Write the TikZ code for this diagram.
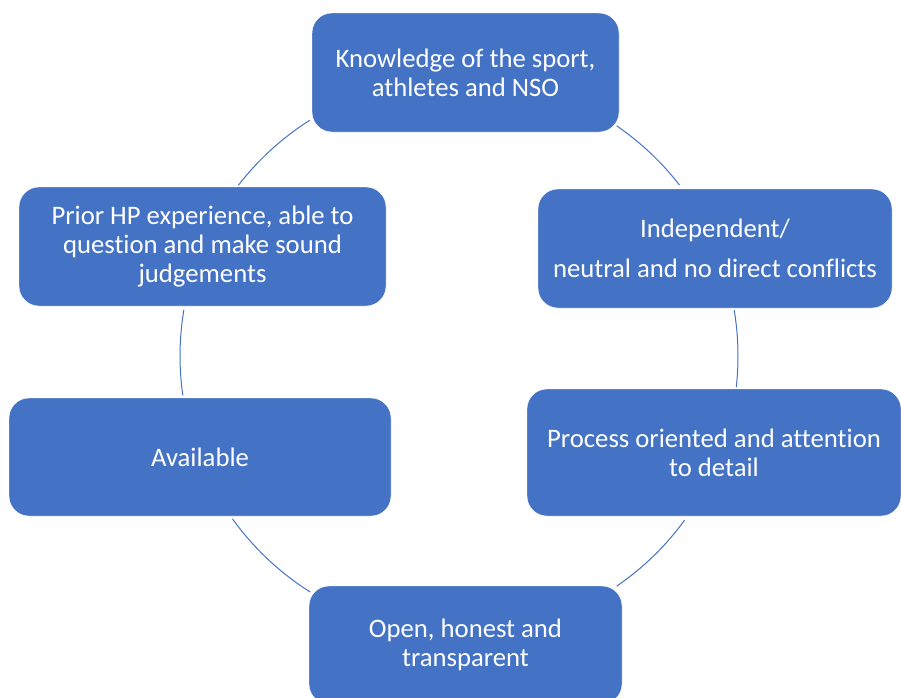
\documentclass[tikz,border=0pt]{standalone}
\usepackage{fontspec}
\setmainfont{Carlito}[Ligatures=NoCommon]
\usepackage{tikz}
\usetikzlibrary{shapes,arrows}
\definecolor{cycblue}{HTML}{4472C4}
\tikzset{
	item/.style = {draw=white, fill=cycblue, rounded corners=20pt, text=white,
		align=center, inner sep=0pt, minimum height=119pt,
		font=\fontsize{26.7}{29}\selectfont},
	link/.style = {draw=cycblue, line width=1pt}
}
\newcommand{\rcyc}{279}

\begin{document}
\begin{tikzpicture}[x=1pt, y=1pt]
	\useasboundingbox (0,0) rectangle (901,-697);
	\clip (0,0) rectangle (901,-697);

	% centre of the cycle
	\coordinate (c) at (459,-356);

	\draw
	% Drawing the six boxes round the cycle
	node at (465.5,-72.5) [item, minimum width=307pt] (know) {Knowledge of the sport,\\athletes and NSO}
	node at (715,-248.5) [item, minimum width=354pt] (indep) {Independent/\\[11pt]neutral and no direct conflicts}
	node at (714,-452.5) [item, minimum width=374pt, minimum height=127pt] (proc) {Process oriented and attention\\to detail}
	node at (465.5,-645) [item, minimum width=313pt, minimum height=118pt] (open) {Open, honest and\\transparent}
	node at (200,-457) [item, minimum width=382pt, minimum height=118pt] (avail) {Available}
	node at (202.5,-246.5) [item, minimum width=367pt] (prior) {Prior HP experience, able to\\question and make sound\\judgements};

	% arcs between the boxes
	\draw[link] ([shift={(55.6:\rcyc)}]c) arc[start angle=55.6, end angle=37.8, radius=\rcyc];
	\draw[link] ([shift={(9.5:\rcyc)}]c) arc[start angle=9.5, end angle=-6.4, radius=\rcyc];
	\draw[link] ([shift={(-36:\rcyc)}]c) arc[start angle=-36, end angle=-55.6, radius=\rcyc];
	\draw[link] ([shift={(237.8:\rcyc)}]c) arc[start angle=237.8, end angle=215.7, radius=\rcyc];
	\draw[link] ([shift={(188.1:\rcyc)}]c) arc[start angle=188.1, end angle=170.5, radius=\rcyc];
	\draw[link] ([shift={(142.3:\rcyc)}]c) arc[start angle=142.3, end angle=122.3, radius=\rcyc];

\end{tikzpicture}
\end{document}
